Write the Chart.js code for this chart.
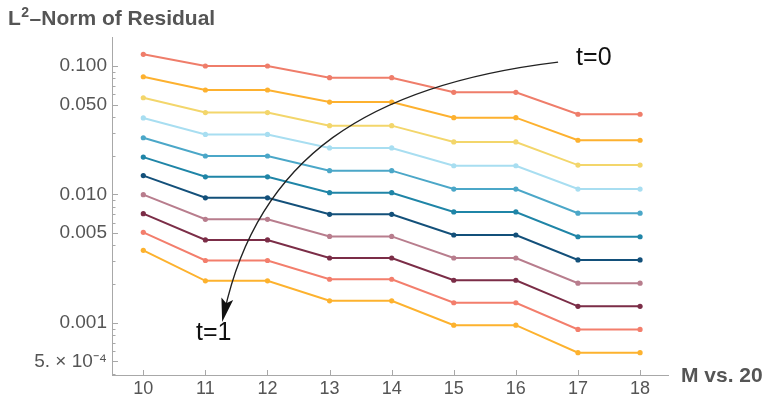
<!DOCTYPE html>
<html>
<head>
<meta charset="utf-8">
<script src="https://cdn.jsdelivr.net/npm/chart.js@4/dist/chart.umd.min.js"></script>
<style>
  html, body { margin: 0; padding: 0; background: #fff; }
  #wrap { width: 765px; height: 403px; position: relative; }
</style>
</head>
<body>
<div id="wrap"><canvas id="c" width="765" height="403"></canvas></div>
<script>
// M values compared against the M = 20 reference solution
const M_VALUES = [10, 11, 12, 13, 14, 15, 16, 17, 18];

// L2-norm of the residual, one series per time t = 0, 0.1, ..., 1
const res_t00 = [0.1234, 0.1000, 0.1000, 0.0811, 0.0811, 0.0624, 0.0624, 0.0421, 0.0421];
const res_t01 = [0.0825, 0.0650, 0.0650, 0.0524, 0.0524, 0.0396, 0.0396, 0.0264, 0.0264];
const res_t02 = [0.0566, 0.0434, 0.0434, 0.0343, 0.0343, 0.0256, 0.0256, 0.0169, 0.0169];
const res_t03 = [0.0394, 0.0293, 0.0293, 0.0230, 0.0230, 0.0167, 0.0167, 0.0110, 0.0110];
const res_t04 = [0.0276, 0.0199, 0.0199, 0.0153, 0.0153, 0.0110, 0.0110, 0.00713, 0.00713];
const res_t05 = [0.0195, 0.0137, 0.0137, 0.0103, 0.0103, 0.00729, 0.00729, 0.00467, 0.00467];
const res_t06 = [0.0140, 0.0094, 0.0094, 0.00699, 0.00699, 0.00482, 0.00482, 0.00308, 0.00308];
const res_t07 = [0.00994, 0.00639, 0.00639, 0.00470, 0.00470, 0.00319, 0.00319, 0.00203, 0.00203];
const res_t08 = [0.00707, 0.00441, 0.00441, 0.00319, 0.00319, 0.00214, 0.00214, 0.00134, 0.00134];
const res_t09 = [0.00506, 0.00305, 0.00305, 0.00218, 0.00218, 0.00143, 0.00143, 0.000885, 0.000885];
const res_t10 = [0.00366, 0.00212, 0.00212, 0.00148, 0.00148, 0.000956, 0.000956, 0.000584, 0.000584];

const SERIES = [res_t00, res_t01, res_t02, res_t03, res_t04, res_t05, res_t06, res_t07, res_t08, res_t09, res_t10];
const COLORS = ['#EF7D6A', '#FDB12F', '#F3D66B', '#A8DEF1', '#4BA7C8', '#1F85A7', '#13507A',
                '#B87D8D', '#7B2D47', '#F37E6C', '#FDB22E'];

// labelled y ticks and their texts
const Y_MAJOR = [0.1, 0.05, 0.01, 0.005, 0.001, 0.0005];
const Y_MAJOR_LABELS = ['0.100', '0.050', '0.010', '0.005', '0.001', '5. \u00d7 10\u207b\u2074'];

const Y_MIN = 3.91e-4, Y_MAX = 0.1683;
const X_MIN = 9.496, X_MAX = 18.45;

// arrow from the t=0 label down to the t=1 label (cubic curve, in data units)
const ARROW = [[16.68, 0.1074], [13.62, 0.0711], [11.85, 0.0195], [11.27, 0.00101]];
const T_START = { text: 't=0', x: 16.97, y: 0.1154 };
const T_END = { text: 't=1', x: 10.85, y: 0.000832 };

const FONT = '"Liberation Sans", Arial, sans-serif';
const TEXT_GRAY = '#555555';
const AXIS_GRAY = '#a8a8a8';

const datasets = SERIES.map((vals, i) => ({
  label: 't=' + (i / 10).toFixed(1),
  data: M_VALUES.map((m, j) => ({ x: m, y: vals[j] })),
  borderColor: COLORS[i],
  backgroundColor: COLORS[i],
  borderWidth: 2,
  pointRadius: 2.6,
  pointBorderWidth: 0,
  pointHoverRadius: 2.6,
  tension: 0
}));

function yTickList() {
  const list = [];
  for (let e = -4; e <= -1; e++) {
    for (let k = 1; k <= 9; k++) {
      const v = k * Math.pow(10, e);
      if (v >= Y_MIN * 0.999 && v <= Y_MAX) {
        const major = Y_MAJOR.some(m => Math.abs(m - v) / m < 1e-6);
        list.push({ value: v, major: major });
      }
    }
  }
  return list;
}

const decor = {
  id: 'decor',
  afterDraw(chart) {
    const { ctx, chartArea: a, scales: { x, y } } = chart;
    ctx.save();

    // inward tick marks
    ctx.strokeStyle = AXIS_GRAY;
    ctx.lineWidth = 1;
    ctx.beginPath();
    y.ticks.forEach(t => {
      const py = Math.round(y.getPixelForValue(t.value)) + 0.5;
      const len = t.major ? 6 : 3.5;
      ctx.moveTo(a.left, py);
      ctx.lineTo(a.left + len, py);
    });
    x.ticks.forEach(t => {
      const px = Math.round(x.getPixelForValue(t.value)) + 0.5;
      ctx.moveTo(px, a.bottom);
      ctx.lineTo(px, a.bottom - 5);
    });
    ctx.stroke();

    // plot title with superscript
    ctx.fillStyle = TEXT_GRAY;
    ctx.textBaseline = 'alphabetic';
    ctx.textAlign = 'left';
    ctx.font = 'bold 21px ' + FONT;
    let tx = 8;
    const base = 25;
    ctx.fillText('L', tx, base);
    tx += ctx.measureText('L').width + 0.5;
    ctx.font = 'bold 14px ' + FONT;
    ctx.fillText('2', tx, base - 8);
    tx += ctx.measureText('2').width + 0.5;
    ctx.font = 'bold 21px ' + FONT;
    ctx.fillText('\u2013Norm of Residual', tx, base);

    // x-axis label at the end of the axis
    ctx.font = 'bold 21px ' + FONT;
    ctx.textBaseline = 'middle';
    ctx.fillText('M vs. 20', a.right + 13, a.bottom + 1);

    // curved arrow
    const P = ARROW.map(p => [x.getPixelForValue(p[0]), y.getPixelForValue(p[1])]);
    const tip = P[3];
    let dx = P[3][0] - P[2][0], dy = P[3][1] - P[2][1];
    const dl = Math.hypot(dx, dy); dx /= dl; dy /= dl;
    const headLen = 24, headHalf = 6;
    ctx.strokeStyle = '#222';
    ctx.lineWidth = 1.3;
    ctx.beginPath();
    ctx.moveTo(P[0][0], P[0][1]);
    ctx.bezierCurveTo(P[1][0], P[1][1], P[2][0], P[2][1], tip[0] - dx * 10, tip[1] - dy * 10);
    ctx.stroke();
    ctx.fillStyle = '#111';
    ctx.beginPath();
    const bx = tip[0] - dx * headLen, by = tip[1] - dy * headLen;
    const nx = -dy, ny = dx;
    ctx.moveTo(tip[0], tip[1]);
    ctx.lineTo(bx + nx * headHalf, by + ny * headHalf);
    ctx.lineTo(tip[0] - dx * headLen * 0.8, tip[1] - dy * headLen * 0.8);
    ctx.lineTo(bx - nx * headHalf, by - ny * headHalf);
    ctx.closePath();
    ctx.fill();

    // t labels
    ctx.fillStyle = '#111';
    ctx.font = '25px ' + FONT;
    ctx.textAlign = 'left';
    ctx.textBaseline = 'middle';
    [T_START, T_END].forEach(l => {
      ctx.fillText(l.text, x.getPixelForValue(l.x), y.getPixelForValue(l.y));
    });

    ctx.restore();
  }
};

new Chart(document.getElementById('c'), {
  type: 'line',
  data: { datasets },
  options: {
    responsive: false,
    animation: false,
    events: [],
    layout: { padding: { left: 0, top: 37, right: 97, bottom: 0 } },
    plugins: { legend: { display: false }, title: { display: false }, tooltip: { enabled: false } },
    scales: {
      x: {
        type: 'linear',
        min: X_MIN,
        max: X_MAX,
        grid: { display: false, drawTicks: false },
        border: { display: true, color: AXIS_GRAY, width: 1 },
        afterBuildTicks: s => { s.ticks = M_VALUES.map(v => ({ value: v })); },
        afterFit: s => { s.height = 28; },
        ticks: {
          autoSkip: false,
          maxRotation: 0,
          padding: 3,
          color: TEXT_GRAY,
          font: { family: FONT, size: 18 },
          callback: v => String(v)
        }
      },
      y: {
        type: 'logarithmic',
        min: Y_MIN,
        max: Y_MAX,
        grid: { display: false, drawTicks: false },
        border: { display: true, color: AXIS_GRAY, width: 1 },
        afterBuildTicks: s => { s.ticks = yTickList(); },
        afterFit: s => { s.width = 112; },
        ticks: {
          autoSkip: false,
          padding: 5,
          color: TEXT_GRAY,
          font: { family: FONT, size: 19 },
          callback: v => {
            const i = Y_MAJOR.findIndex(m => Math.abs(m - v) / m < 1e-6);
            return i >= 0 ? Y_MAJOR_LABELS[i] : '';
          }
        }
      }
    }
  },
  plugins: [decor]
});
</script>
</body>
</html>
